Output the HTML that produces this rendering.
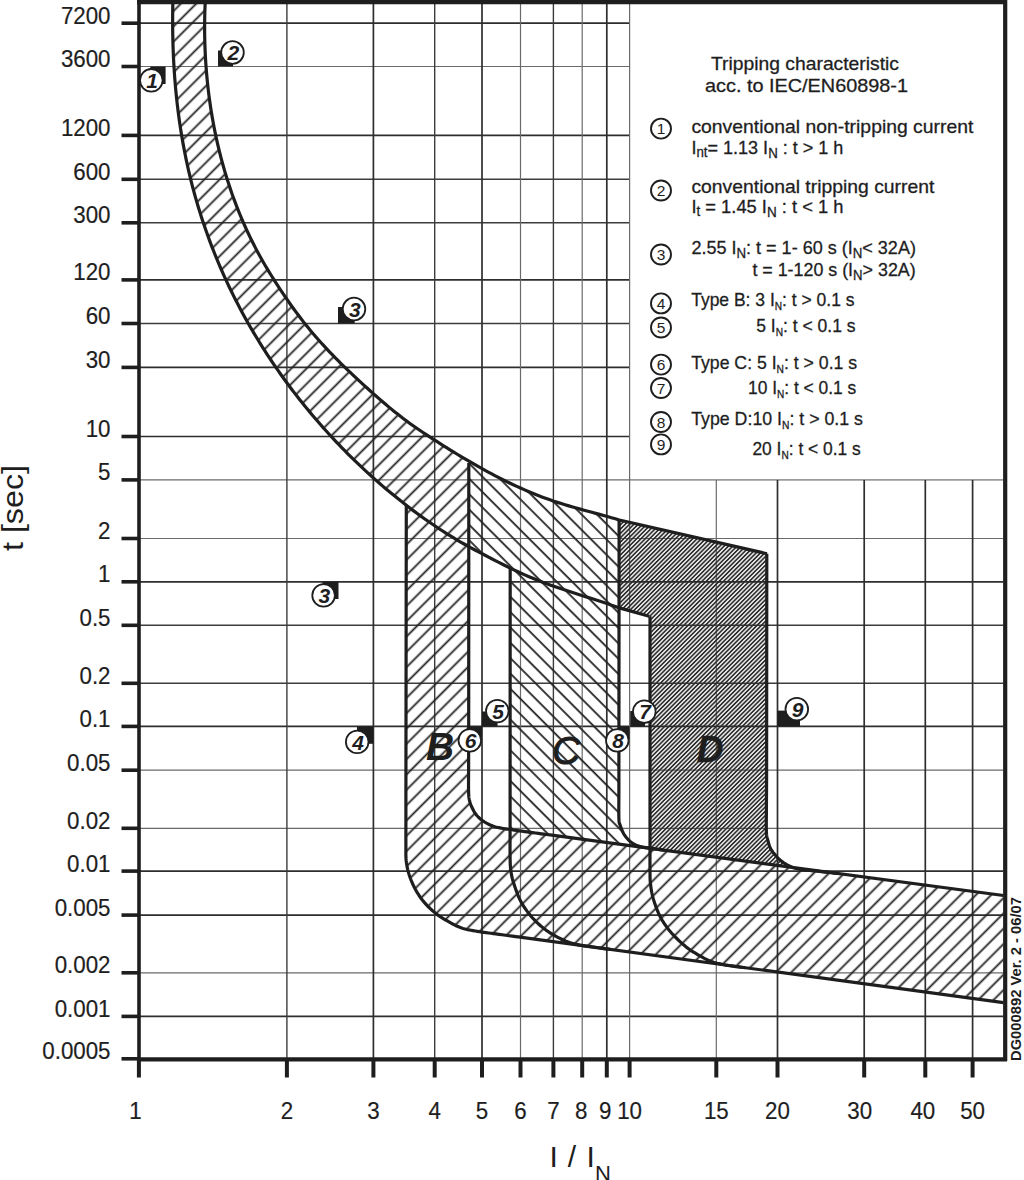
<!DOCTYPE html>
<html><head><meta charset="utf-8"><style>
html,body{margin:0;padding:0;background:#fff;width:1024px;height:1180px;overflow:hidden}
svg{display:block}
</style></head><body>
<svg width="1024" height="1180" viewBox="0 0 1024 1180">
<defs>
<pattern id="pA" patternUnits="userSpaceOnUse" width="10.84" height="10.84" patternTransform="rotate(45) translate(-5.0,0)"><line x1="5.42" y1="-1" x2="5.42" y2="12" stroke="#222" stroke-width="1.8"/></pattern>
<pattern id="pC" patternUnits="userSpaceOnUse" width="10.854" height="10.854" patternTransform="rotate(-45)"><line x1="4.10" y1="-1" x2="4.10" y2="12" stroke="#222" stroke-width="1.8"/></pattern>
<pattern id="pD" patternUnits="userSpaceOnUse" width="3.05" height="3.05" patternTransform="rotate(45)"><rect width="3.05" height="3.05" fill="#000" fill-opacity="0.1"/><line x1="1.52" y1="-1" x2="1.52" y2="5" stroke="#2a2a2a" stroke-width="1.5"/></pattern>
</defs>
<rect x="0" y="0" width="1024" height="1180" fill="#fff"/>
<line x1="139" y1="23.2" x2="630.0" y2="23.2" stroke="#2e2e2e" stroke-width="1.7"/>
<line x1="139" y1="66.5" x2="630.0" y2="66.5" stroke="#6a6a6a" stroke-width="1.2"/>
<line x1="139" y1="135.4" x2="630.0" y2="135.4" stroke="#2e2e2e" stroke-width="1.7"/>
<line x1="139" y1="179.3" x2="630.0" y2="179.3" stroke="#3c3c3c" stroke-width="1.4"/>
<line x1="139" y1="222.8" x2="630.0" y2="222.8" stroke="#3c3c3c" stroke-width="1.4"/>
<line x1="139" y1="279.9" x2="630.0" y2="279.9" stroke="#2e2e2e" stroke-width="1.7"/>
<line x1="139" y1="323.5" x2="630.0" y2="323.5" stroke="#3c3c3c" stroke-width="1.4"/>
<line x1="139" y1="367.4" x2="630.0" y2="367.4" stroke="#2e2e2e" stroke-width="1.7"/>
<line x1="139" y1="436.5" x2="630.0" y2="436.5" stroke="#2e2e2e" stroke-width="1.7"/>
<line x1="139" y1="479.9" x2="1003.5" y2="479.9" stroke="#6a6a6a" stroke-width="1.2"/>
<line x1="139" y1="538.5" x2="1003.5" y2="538.5" stroke="#6a6a6a" stroke-width="1.2"/>
<line x1="139" y1="581.8" x2="1003.5" y2="581.8" stroke="#2e2e2e" stroke-width="1.7"/>
<line x1="139" y1="625.3" x2="1003.5" y2="625.3" stroke="#3c3c3c" stroke-width="1.4"/>
<line x1="139" y1="683.3" x2="1003.5" y2="683.3" stroke="#3c3c3c" stroke-width="1.4"/>
<line x1="139" y1="726.4" x2="1003.5" y2="726.4" stroke="#2e2e2e" stroke-width="1.7"/>
<line x1="139" y1="770.2" x2="1003.5" y2="770.2" stroke="#6a6a6a" stroke-width="1.2"/>
<line x1="139" y1="828.3" x2="1003.5" y2="828.3" stroke="#6a6a6a" stroke-width="1.2"/>
<line x1="139" y1="871.1" x2="1003.5" y2="871.1" stroke="#2e2e2e" stroke-width="1.7"/>
<line x1="139" y1="915.1" x2="1003.5" y2="915.1" stroke="#2e2e2e" stroke-width="1.7"/>
<line x1="139" y1="972.8" x2="1003.5" y2="972.8" stroke="#6a6a6a" stroke-width="1.2"/>
<line x1="139" y1="1016.4" x2="1003.5" y2="1016.4" stroke="#2e2e2e" stroke-width="1.7"/>
<line x1="286.9" y1="2.0" x2="286.9" y2="1059" stroke="#3c3c3c" stroke-width="1.4"/>
<line x1="373.4" y1="2.0" x2="373.4" y2="1059" stroke="#2e2e2e" stroke-width="1.7"/>
<line x1="434.7" y1="2.0" x2="434.7" y2="1059" stroke="#3c3c3c" stroke-width="1.4"/>
<line x1="482.0" y1="2.0" x2="482.0" y2="1059" stroke="#2e2e2e" stroke-width="1.7"/>
<line x1="520.5" y1="2.0" x2="520.5" y2="1059" stroke="#6a6a6a" stroke-width="1.2"/>
<line x1="553.4" y1="2.0" x2="553.4" y2="1059" stroke="#3c3c3c" stroke-width="1.4"/>
<line x1="582.2" y1="2.0" x2="582.2" y2="1059" stroke="#6a6a6a" stroke-width="1.2"/>
<line x1="606.8" y1="2.0" x2="606.8" y2="1059" stroke="#2e2e2e" stroke-width="1.7"/>
<line x1="629.6" y1="2.0" x2="629.6" y2="1059" stroke="#6a6a6a" stroke-width="1.2"/>
<line x1="716.3" y1="479.9" x2="716.3" y2="1059" stroke="#6a6a6a" stroke-width="1.2"/>
<line x1="777.5" y1="479.9" x2="777.5" y2="1059" stroke="#2e2e2e" stroke-width="1.7"/>
<line x1="864.2" y1="479.9" x2="864.2" y2="1059" stroke="#2e2e2e" stroke-width="1.7"/>
<line x1="925.3" y1="479.9" x2="925.3" y2="1059" stroke="#2e2e2e" stroke-width="1.7"/>
<line x1="972.6" y1="479.9" x2="972.6" y2="1059" stroke="#2e2e2e" stroke-width="1.7"/>
<path d="M172.93 -0.18 L172.83 3.85 L172.75 7.87 L172.70 11.90 L172.66 15.92 L172.64 19.95 L172.65 23.97 L172.67 27.99 L172.71 32.01 L172.78 36.04 L172.87 40.06 L172.97 44.07 L173.10 48.09 L173.25 52.11 L173.42 56.12 L173.62 60.13 L173.83 64.14 L174.07 68.15 L174.33 72.16 L174.61 76.16 L174.92 80.16 L175.25 84.15 L175.60 88.15 L175.98 92.14 L176.37 96.13 L176.80 100.11 L177.25 104.09 L177.72 108.07 L178.21 112.04 L178.73 116.01 L179.28 119.97 L179.85 123.93 L180.44 127.88 L181.06 131.83 L181.71 135.78 L182.38 139.72 L183.08 143.65 L183.80 147.58 L184.55 151.50 L185.33 155.42 L186.13 159.33 L186.96 163.24 L187.82 167.14 L188.70 171.03 L189.62 174.92 L190.56 178.80 L191.52 182.67 L192.52 186.53 L193.54 190.39 L194.59 194.24 L195.67 198.09 L196.78 201.92 L197.91 205.75 L199.07 209.57 L200.26 213.39 L201.47 217.19 L202.71 220.99 L203.98 224.77 L205.28 228.55 L206.60 232.32 L207.95 236.08 L209.32 239.83 L210.73 243.57 L212.15 247.31 L213.61 251.03 L215.09 254.74 L216.60 258.44 L218.13 262.14 L219.69 265.82 L221.28 269.49 L222.89 273.15 L224.53 276.80 L226.19 280.44 L227.88 284.07 L229.60 287.69 L231.34 291.29 L233.11 294.89 L234.90 298.47 L236.72 302.04 L238.56 305.60 L240.42 309.14 L242.32 312.67 L244.24 316.20 L246.18 319.70 L248.15 323.20 L250.14 326.68 L252.15 330.15 L254.19 333.61 L256.26 337.05 L258.35 340.48 L260.46 343.89 L262.60 347.29 L264.76 350.68 L266.94 354.05 L269.14 357.41 L271.37 360.75 L273.62 364.08 L275.89 367.40 L278.18 370.70 L280.50 373.98 L282.83 377.25 L285.19 380.50 L287.57 383.74 L289.97 386.96 L292.39 390.16 L294.83 393.35 L297.28 396.53 L299.76 399.68 L302.26 402.82 L304.78 405.94 L307.31 409.05 L309.87 412.14 L312.44 415.21 L315.03 418.26 L317.64 421.30 L320.27 424.32 L322.92 427.32 L325.59 430.30 L328.27 433.27 L330.97 436.22 L333.70 439.15 L336.43 442.06 L339.19 444.95 L341.97 447.83 L344.76 450.68 L347.58 453.52 L350.41 456.34 L353.26 459.14 L356.12 461.93 L359.01 464.69 L361.91 467.43 L364.83 470.16 L367.77 472.87 L370.73 475.55 L373.71 478.22 L376.70 480.87 L379.71 483.50 L382.74 486.11 L385.79 488.70 L388.85 491.27 L391.93 493.82 L395.03 496.35 L398.15 498.86 L401.29 501.35 L404.44 503.82 L406.30 505.26 L405.90 800.00 L405.90 801.51 L405.90 803.47 L405.90 805.80 L405.90 808.41 L405.90 811.23 L405.90 814.15 L405.90 817.10 L405.90 820.00 L405.90 822.99 L405.89 826.21 L405.89 829.57 L405.88 832.99 L405.88 836.38 L405.88 839.63 L405.89 842.67 L405.90 845.40 L405.90 847.80 L405.89 849.96 L405.87 851.93 L405.86 853.75 L405.88 855.49 L405.93 857.19 L406.03 858.91 L406.20 860.70 L406.42 862.53 L406.69 864.33 L406.99 866.10 L407.34 867.86 L407.73 869.62 L408.17 871.37 L408.66 873.13 L409.20 874.90 L409.80 876.70 L410.46 878.52 L411.17 880.35 L411.93 882.17 L412.72 883.99 L413.55 885.77 L414.42 887.51 L415.30 889.20 L416.20 890.83 L417.13 892.42 L418.09 893.97 L419.08 895.49 L420.11 896.99 L421.19 898.47 L422.32 899.94 L423.50 901.40 L424.75 902.87 L426.07 904.34 L427.44 905.81 L428.85 907.26 L430.29 908.67 L431.76 910.04 L433.23 911.36 L434.70 912.60 L436.16 913.77 L437.63 914.87 L439.11 915.91 L440.61 916.91 L442.13 917.87 L443.69 918.82 L445.27 919.76 L446.90 920.70 L448.56 921.66 L450.26 922.63 L451.99 923.59 L453.74 924.53 L455.53 925.44 L457.36 926.29 L459.21 927.09 L461.10 927.80 L463.02 928.42 L464.97 928.97 L466.96 929.45 L468.98 929.89 L471.03 930.28 L473.11 930.66 L475.24 931.02 L477.40 931.40 L479.58 931.76 L481.76 932.09 L483.97 932.40 L486.22 932.69 L488.53 932.98 L490.92 933.28 L493.40 933.59 L496.00 933.94 L498.91 934.33 L502.18 934.78 L505.66 935.25 L509.16 935.72 L512.52 936.18 L515.56 936.59 L518.11 936.93 L520.00 937.19 L1003.50 1002.70 L1003.50 895.50 L550.00 834.96 L548.46 834.75 L546.41 834.48 L543.97 834.16 L541.26 833.80 L538.39 833.42 L535.48 833.03 L532.64 832.65 L530.00 832.29 L527.42 831.94 L524.72 831.57 L521.98 831.19 L519.26 830.82 L516.62 830.45 L514.14 830.10 L511.88 829.78 L509.90 829.50 L508.25 829.26 L506.87 829.07 L505.71 828.90 L504.71 828.76 L503.79 828.62 L502.91 828.47 L502.00 828.30 L501.00 828.10 L499.94 827.88 L498.90 827.67 L497.87 827.45 L496.86 827.21 L495.84 826.96 L494.83 826.68 L493.82 826.36 L492.80 826.00 L491.77 825.60 L490.72 825.17 L489.66 824.71 L488.61 824.21 L487.57 823.69 L486.55 823.15 L485.56 822.58 L484.60 822.00 L483.67 821.39 L482.75 820.76 L481.86 820.11 L480.99 819.43 L480.14 818.73 L479.33 818.01 L478.54 817.26 L477.80 816.50 L477.09 815.72 L476.43 814.92 L475.79 814.10 L475.19 813.26 L474.61 812.39 L474.05 811.49 L473.52 810.56 L473.00 809.60 L472.49 808.59 L472.00 807.54 L471.52 806.44 L471.06 805.32 L470.64 804.19 L470.25 803.05 L469.90 801.92 L469.60 800.80 L469.35 799.78 L469.16 798.89 L469.01 798.04 L468.89 797.17 L468.80 796.19 L468.72 795.04 L468.66 793.64 L468.60 791.90 L468.55 789.84 L468.53 787.53 L468.52 785.00 L468.53 782.27 L468.55 779.38 L468.57 776.35 L468.59 773.21 L468.60 770.00 L468.61 766.43 L468.62 762.37 L468.63 758.02 L468.65 753.63 L468.67 749.41 L468.68 745.58 L468.69 742.37 L468.70 740.00 L468.80 461.12 L467.20 460.19 L463.74 458.14 L460.28 456.08 L456.84 454.00 L453.41 451.90 L449.99 449.79 L446.58 447.66 L443.18 445.53 L439.79 443.38 L436.42 441.22 L433.05 439.05 L429.69 436.87 L426.34 434.68 L423.01 432.48 L419.70 430.26 L416.41 428.01 L413.15 425.73 L409.91 423.43 L406.71 421.09 L403.53 418.72 L400.39 416.31 L397.28 413.87 L394.18 411.39 L391.12 408.89 L388.07 406.36 L385.04 403.80 L382.02 401.22 L379.02 398.62 L376.02 396.00 L373.03 393.36 L370.05 390.71 L367.07 388.04 L364.10 385.36 L361.14 382.66 L358.18 379.94 L355.24 377.21 L352.31 374.45 L349.40 371.68 L346.50 368.90 L343.61 366.09 L340.75 363.27 L337.90 360.43 L335.08 357.56 L332.27 354.68 L329.49 351.78 L326.74 348.86 L324.01 345.92 L321.31 342.96 L318.64 339.98 L316.00 336.97 L313.39 333.95 L310.81 330.90 L308.27 327.83 L305.77 324.74 L303.30 321.63 L300.87 318.49 L298.47 315.33 L296.10 312.15 L293.76 308.95 L291.44 305.72 L289.15 302.47 L286.87 299.21 L284.61 295.92 L282.37 292.61 L280.14 289.28 L277.94 285.93 L275.76 282.57 L273.60 279.18 L271.46 275.77 L269.35 272.35 L267.27 268.91 L265.22 265.45 L263.20 261.97 L261.22 258.47 L259.27 254.96 L257.35 251.43 L255.47 247.88 L253.63 244.32 L251.83 240.74 L250.06 237.15 L248.34 233.54 L246.65 229.91 L244.99 226.27 L243.37 222.62 L241.79 218.95 L240.25 215.27 L238.74 211.57 L237.26 207.87 L235.82 204.14 L234.42 200.41 L233.05 196.66 L231.72 192.90 L230.42 189.13 L229.15 185.35 L227.92 181.56 L226.72 177.75 L225.56 173.94 L224.42 170.11 L223.33 166.27 L222.26 162.43 L221.23 158.57 L220.23 154.71 L219.26 150.84 L218.32 146.96 L217.41 143.07 L216.54 139.17 L215.70 135.26 L214.89 131.35 L214.11 127.43 L213.36 123.50 L212.64 119.57 L211.96 115.63 L211.30 111.68 L210.68 107.73 L210.09 103.77 L209.53 99.81 L209.00 95.85 L208.50 91.88 L208.03 87.90 L207.59 83.92 L207.18 79.94 L206.81 75.95 L206.46 71.97 L206.14 67.97 L205.86 63.98 L205.60 59.98 L205.37 55.99 L205.18 51.99 L205.01 47.99 L204.87 43.98 L204.77 39.98 L204.69 35.98 L204.64 31.98 L204.63 27.98 L204.64 23.97 L204.68 19.97 L204.75 15.97 L204.85 11.98 L204.98 7.98 L205.14 3.99 L205.32 -0.01 Z" fill="url(#pA)"/>
<path d="M468.80 461.12 L470.67 462.22 L474.16 464.23 L477.65 466.21 L481.16 468.18 L484.68 470.12 L488.21 472.04 L491.75 473.94 L495.30 475.81 L498.86 477.65 L502.43 479.46 L506.02 481.24 L509.62 482.99 L513.23 484.71 L516.85 486.40 L520.48 488.05 L524.13 489.66 L527.78 491.24 L531.45 492.78 L535.13 494.28 L538.83 495.74 L542.53 497.16 L546.25 498.53 L549.98 499.86 L553.72 501.15 L557.48 502.39 L561.25 503.59 L565.03 504.75 L568.82 505.88 L572.63 506.99 L576.45 508.07 L580.28 509.14 L584.13 510.19 L587.99 511.24 L591.86 512.29 L595.74 513.34 L599.64 514.40 L603.56 515.48 L607.48 516.57 L611.42 517.68 L615.38 518.83 L619.10 519.93 L618.90 770.00 L618.90 771.48 L618.90 773.39 L618.90 775.65 L618.90 778.21 L618.90 780.98 L618.90 783.92 L618.90 786.95 L618.90 790.00 L618.89 793.32 L618.87 797.08 L618.84 801.09 L618.81 805.17 L618.80 809.16 L618.80 812.86 L618.83 816.10 L618.90 818.70 L618.99 820.59 L619.10 821.91 L619.23 822.79 L619.39 823.38 L619.57 823.81 L619.78 824.21 L620.02 824.73 L620.30 825.50 L620.62 826.47 L620.98 827.50 L621.37 828.56 L621.79 829.64 L622.23 830.71 L622.70 831.76 L623.19 832.76 L623.70 833.70 L624.23 834.59 L624.79 835.44 L625.37 836.26 L625.98 837.06 L626.59 837.82 L627.23 838.54 L627.86 839.24 L628.50 839.90 L629.14 840.52 L629.77 841.11 L630.42 841.65 L631.07 842.17 L631.74 842.66 L632.43 843.12 L633.15 843.57 L633.90 844.00 L634.68 844.41 L635.47 844.80 L636.29 845.17 L637.14 845.52 L638.01 845.84 L638.91 846.15 L639.84 846.43 L640.80 846.70 L641.76 846.93 L642.71 847.12 L643.67 847.28 L644.67 847.43 L645.73 847.57 L646.89 847.72 L648.17 847.90 L649.60 848.10 L651.31 848.35 L653.35 848.65 L655.57 848.97 L657.85 849.29 L660.06 849.61 L662.08 849.90 L663.77 850.14 L510.20 829.65 L510.20 568.08 L506.57 566.30 L502.95 564.50 L499.35 562.68 L495.77 560.84 L492.19 558.99 L488.63 557.14 L485.08 555.28 L481.55 553.42 L478.03 551.57 L474.52 549.72 L471.03 547.85 L468.80 546.63 Z" fill="url(#pC)"/>
<path d="M619.1 520 L767 553.7 L766.60 780.00 L766.58 782.37 L766.56 785.58 L766.53 789.41 L766.50 793.63 L766.47 798.02 L766.44 802.37 L766.42 806.43 L766.40 810.00 L766.38 813.22 L766.35 816.37 L766.32 819.41 L766.30 822.31 L766.29 825.05 L766.30 827.58 L766.33 829.87 L766.40 831.90 L766.50 833.58 L766.62 834.91 L766.77 835.98 L766.93 836.86 L767.12 837.63 L767.33 838.37 L767.55 839.17 L767.80 840.10 L768.06 841.13 L768.33 842.18 L768.62 843.24 L768.94 844.29 L769.28 845.33 L769.65 846.35 L770.05 847.34 L770.50 848.30 L770.99 849.23 L771.54 850.13 L772.12 851.01 L772.73 851.87 L773.36 852.71 L774.00 853.52 L774.65 854.32 L775.30 855.10 L775.94 855.85 L776.58 856.58 L777.22 857.29 L777.88 857.98 L778.56 858.65 L779.27 859.30 L780.01 859.95 L780.80 860.60 L781.63 861.24 L782.49 861.88 L783.38 862.51 L784.30 863.13 L785.25 863.73 L786.24 864.31 L787.25 864.87 L788.30 865.40 L789.30 865.90 L790.24 866.36 L791.16 866.81 L792.13 867.23 L793.22 867.64 L794.49 868.03 L795.99 868.42 L797.80 868.80 L799.98 869.17 L802.51 869.54 L805.29 869.89 L808.24 870.23 L811.28 870.56 L814.31 870.88 L817.24 871.19 L820.00 871.50 L822.74 871.81 L825.62 872.13 L828.54 872.45 L831.39 872.76 L834.06 873.04 L836.46 873.30 L838.47 873.51 L650.00 848.31 L650.00 616.2 L619.1 607.9 Z" fill="url(#pD)"/>
<path d="M172.93 -0.18 L172.83 3.85 L172.75 7.87 L172.70 11.90 L172.66 15.92 L172.64 19.95 L172.65 23.97 L172.67 27.99 L172.71 32.01 L172.78 36.04 L172.87 40.06 L172.97 44.07 L173.10 48.09 L173.25 52.11 L173.42 56.12 L173.62 60.13 L173.83 64.14 L174.07 68.15 L174.33 72.16 L174.61 76.16 L174.92 80.16 L175.25 84.15 L175.60 88.15 L175.98 92.14 L176.37 96.13 L176.80 100.11 L177.25 104.09 L177.72 108.07 L178.21 112.04 L178.73 116.01 L179.28 119.97 L179.85 123.93 L180.44 127.88 L181.06 131.83 L181.71 135.78 L182.38 139.72 L183.08 143.65 L183.80 147.58 L184.55 151.50 L185.33 155.42 L186.13 159.33 L186.96 163.24 L187.82 167.14 L188.70 171.03 L189.62 174.92 L190.56 178.80 L191.52 182.67 L192.52 186.53 L193.54 190.39 L194.59 194.24 L195.67 198.09 L196.78 201.92 L197.91 205.75 L199.07 209.57 L200.26 213.39 L201.47 217.19 L202.71 220.99 L203.98 224.77 L205.28 228.55 L206.60 232.32 L207.95 236.08 L209.32 239.83 L210.73 243.57 L212.15 247.31 L213.61 251.03 L215.09 254.74 L216.60 258.44 L218.13 262.14 L219.69 265.82 L221.28 269.49 L222.89 273.15 L224.53 276.80 L226.19 280.44 L227.88 284.07 L229.60 287.69 L231.34 291.29 L233.11 294.89 L234.90 298.47 L236.72 302.04 L238.56 305.60 L240.42 309.14 L242.32 312.67 L244.24 316.20 L246.18 319.70 L248.15 323.20 L250.14 326.68 L252.15 330.15 L254.19 333.61 L256.26 337.05 L258.35 340.48 L260.46 343.89 L262.60 347.29 L264.76 350.68 L266.94 354.05 L269.14 357.41 L271.37 360.75 L273.62 364.08 L275.89 367.40 L278.18 370.70 L280.50 373.98 L282.83 377.25 L285.19 380.50 L287.57 383.74 L289.97 386.96 L292.39 390.16 L294.83 393.35 L297.28 396.53 L299.76 399.68 L302.26 402.82 L304.78 405.94 L307.31 409.05 L309.87 412.14 L312.44 415.21 L315.03 418.26 L317.64 421.30 L320.27 424.32 L322.92 427.32 L325.59 430.30 L328.27 433.27 L330.97 436.22 L333.70 439.15 L336.43 442.06 L339.19 444.95 L341.97 447.83 L344.76 450.68 L347.58 453.52 L350.41 456.34 L353.26 459.14 L356.12 461.93 L359.01 464.69 L361.91 467.43 L364.83 470.16 L367.77 472.87 L370.73 475.55 L373.71 478.22 L376.70 480.87 L379.71 483.50 L382.74 486.11 L385.79 488.70 L388.85 491.27 L391.93 493.82 L395.03 496.35 L398.15 498.86 L401.29 501.35 L404.44 503.82 L407.61 506.27 L410.80 508.70 L414.01 511.11 L417.23 513.50 L420.47 515.86 L423.73 518.19 L427.01 520.51 L430.30 522.79 L433.61 525.05 L436.93 527.28 L440.27 529.48 L443.63 531.65 L447.00 533.80 L450.38 535.91 L453.79 537.98 L457.21 540.03 L460.64 542.03 L464.09 544.01 L467.55 545.94 L471.03 547.85 L474.52 549.72 L478.03 551.57 L481.55 553.42 L485.08 555.28 L488.63 557.14 L492.19 558.99 L495.77 560.84 L499.35 562.68 L502.95 564.50 L506.57 566.30 L510.19 568.07 L513.83 569.82 L517.47 571.53 L521.13 573.21 L524.80 574.84 L528.48 576.43 L532.17 577.99 L535.87 579.50 L539.58 580.97 L543.30 582.41 L547.03 583.81 L550.77 585.18 L554.52 586.51 L558.27 587.82 L562.03 589.09 L565.81 590.34 L569.58 591.58 L573.37 592.80 L577.16 594.01 L580.96 595.21 L584.77 596.42 L588.58 597.62 L592.40 598.84 L596.22 600.06 L600.05 601.30 L603.88 602.56 L607.72 603.85 L611.56 605.16 L615.41 606.51 L619.26 607.89 L649.2 616.2" fill="none" stroke="#1e1e1e" stroke-width="3.2" stroke-linejoin="round"/>
<path d="M205.32 -0.01 L205.14 3.99 L204.98 7.98 L204.85 11.98 L204.75 15.97 L204.68 19.97 L204.64 23.97 L204.63 27.98 L204.64 31.98 L204.69 35.98 L204.77 39.98 L204.87 43.98 L205.01 47.99 L205.18 51.99 L205.37 55.99 L205.60 59.98 L205.86 63.98 L206.14 67.97 L206.46 71.97 L206.81 75.95 L207.18 79.94 L207.59 83.92 L208.03 87.90 L208.50 91.88 L209.00 95.85 L209.53 99.81 L210.09 103.77 L210.68 107.73 L211.30 111.68 L211.96 115.63 L212.64 119.57 L213.36 123.50 L214.11 127.43 L214.89 131.35 L215.70 135.26 L216.54 139.17 L217.41 143.07 L218.32 146.96 L219.26 150.84 L220.23 154.71 L221.23 158.57 L222.26 162.43 L223.33 166.27 L224.42 170.11 L225.56 173.94 L226.72 177.75 L227.92 181.56 L229.15 185.35 L230.42 189.13 L231.72 192.90 L233.05 196.66 L234.42 200.41 L235.82 204.14 L237.26 207.87 L238.74 211.57 L240.25 215.27 L241.79 218.95 L243.37 222.62 L244.99 226.27 L246.65 229.91 L248.34 233.54 L250.06 237.15 L251.83 240.74 L253.63 244.32 L255.47 247.88 L257.35 251.43 L259.27 254.96 L261.22 258.47 L263.20 261.97 L265.22 265.45 L267.27 268.91 L269.35 272.35 L271.46 275.77 L273.60 279.18 L275.76 282.57 L277.94 285.93 L280.14 289.28 L282.37 292.61 L284.61 295.92 L286.87 299.21 L289.15 302.47 L291.44 305.72 L293.76 308.95 L296.10 312.15 L298.47 315.33 L300.87 318.49 L303.30 321.63 L305.77 324.74 L308.27 327.83 L310.81 330.90 L313.39 333.95 L316.00 336.97 L318.64 339.98 L321.31 342.96 L324.01 345.92 L326.74 348.86 L329.49 351.78 L332.27 354.68 L335.08 357.56 L337.90 360.43 L340.75 363.27 L343.61 366.09 L346.50 368.90 L349.40 371.68 L352.31 374.45 L355.24 377.21 L358.18 379.94 L361.14 382.66 L364.10 385.36 L367.07 388.04 L370.05 390.71 L373.03 393.36 L376.02 396.00 L379.02 398.62 L382.02 401.22 L385.04 403.80 L388.07 406.36 L391.12 408.89 L394.18 411.39 L397.28 413.87 L400.39 416.31 L403.53 418.72 L406.71 421.09 L409.91 423.43 L413.15 425.73 L416.41 428.01 L419.70 430.26 L423.01 432.48 L426.34 434.68 L429.69 436.87 L433.05 439.05 L436.42 441.22 L439.79 443.38 L443.18 445.53 L446.58 447.66 L449.99 449.79 L453.41 451.90 L456.84 454.00 L460.28 456.08 L463.74 458.14 L467.20 460.19 L470.67 462.22 L474.16 464.23 L477.65 466.21 L481.16 468.18 L484.68 470.12 L488.21 472.04 L491.75 473.94 L495.30 475.81 L498.86 477.65 L502.43 479.46 L506.02 481.24 L509.62 482.99 L513.23 484.71 L516.85 486.40 L520.48 488.05 L524.13 489.66 L527.78 491.24 L531.45 492.78 L535.13 494.28 L538.83 495.74 L542.53 497.16 L546.25 498.53 L549.98 499.86 L553.72 501.15 L557.48 502.39 L561.25 503.59 L565.03 504.75 L568.82 505.88 L572.63 506.99 L576.45 508.07 L580.28 509.14 L584.13 510.19 L587.99 511.24 L591.86 512.29 L595.74 513.34 L599.64 514.40 L603.56 515.48 L607.48 516.57 L611.42 517.68 L615.38 518.83 L619.34 520.00 L767 553.7" fill="none" stroke="#1e1e1e" stroke-width="3.2" stroke-linejoin="round"/>
<path d="M406.30 505.6 L405.90 800.00 L405.90 801.51 L405.90 803.47 L405.90 805.80 L405.90 808.41 L405.90 811.23 L405.90 814.15 L405.90 817.10 L405.90 820.00 L405.90 822.99 L405.89 826.21 L405.89 829.57 L405.88 832.99 L405.88 836.38 L405.88 839.63 L405.89 842.67 L405.90 845.40 L405.90 847.80 L405.89 849.96 L405.87 851.93 L405.86 853.75 L405.88 855.49 L405.93 857.19 L406.03 858.91 L406.20 860.70 L406.42 862.53 L406.69 864.33 L406.99 866.10 L407.34 867.86 L407.73 869.62 L408.17 871.37 L408.66 873.13 L409.20 874.90 L409.80 876.70 L410.46 878.52 L411.17 880.35 L411.93 882.17 L412.72 883.99 L413.55 885.77 L414.42 887.51 L415.30 889.20 L416.20 890.83 L417.13 892.42 L418.09 893.97 L419.08 895.49 L420.11 896.99 L421.19 898.47 L422.32 899.94 L423.50 901.40 L424.75 902.87 L426.07 904.34 L427.44 905.81 L428.85 907.26 L430.29 908.67 L431.76 910.04 L433.23 911.36 L434.70 912.60 L436.16 913.77 L437.63 914.87 L439.11 915.91 L440.61 916.91 L442.13 917.87 L443.69 918.82 L445.27 919.76 L446.90 920.70 L448.56 921.66 L450.26 922.63 L451.99 923.59 L453.74 924.53 L455.53 925.44 L457.36 926.29 L459.21 927.09 L461.10 927.80 L463.02 928.42 L464.97 928.97 L466.96 929.45 L468.98 929.89 L471.03 930.28 L473.11 930.66 L475.24 931.02 L477.40 931.40 L479.58 931.76 L481.76 932.09 L483.97 932.40 L486.22 932.69 L488.53 932.98 L490.92 933.28 L493.40 933.59 L496.00 933.94 L498.91 934.33 L502.18 934.78 L505.66 935.25 L509.16 935.72 L512.52 936.18 L515.56 936.59 L518.11 936.93 L520.00 937.19 L1003.50 1002.70" fill="none" stroke="#1e1e1e" stroke-width="3.2" stroke-linejoin="round"/>
<path d="M468.80 462.9 L468.70 740.00 L468.69 742.37 L468.68 745.58 L468.67 749.41 L468.65 753.63 L468.63 758.02 L468.62 762.37 L468.61 766.43 L468.60 770.00 L468.59 773.21 L468.57 776.35 L468.55 779.38 L468.53 782.27 L468.52 785.00 L468.53 787.53 L468.55 789.84 L468.60 791.90 L468.66 793.64 L468.72 795.04 L468.80 796.19 L468.89 797.17 L469.01 798.04 L469.16 798.89 L469.35 799.78 L469.60 800.80 L469.90 801.92 L470.25 803.05 L470.64 804.19 L471.06 805.32 L471.52 806.44 L472.00 807.54 L472.49 808.59 L473.00 809.60 L473.52 810.56 L474.05 811.49 L474.61 812.39 L475.19 813.26 L475.79 814.10 L476.43 814.92 L477.09 815.72 L477.80 816.50 L478.54 817.26 L479.33 818.01 L480.14 818.73 L480.99 819.43 L481.86 820.11 L482.75 820.76 L483.67 821.39 L484.60 822.00 L485.56 822.58 L486.55 823.15 L487.57 823.69 L488.61 824.21 L489.66 824.71 L490.72 825.17 L491.77 825.60 L492.80 826.00 L493.82 826.36 L494.83 826.68 L495.84 826.96 L496.86 827.21 L497.87 827.45 L498.90 827.67 L499.94 827.88 L501.00 828.10 L502.00 828.30 L502.91 828.47 L503.79 828.62 L504.71 828.76 L505.71 828.90 L506.87 829.07 L508.25 829.26 L509.90 829.50 L511.88 829.78 L514.14 830.10 L516.62 830.45 L519.26 830.82 L521.98 831.19 L524.72 831.57 L527.42 831.94 L530.00 832.29 L532.64 832.65 L535.48 833.03 L538.39 833.42 L541.26 833.80 L543.97 834.16 L546.41 834.48 L548.46 834.75 L550.00 834.96 L1003.50 895.50" fill="none" stroke="#1e1e1e" stroke-width="3.2" stroke-linejoin="round"/>
<path d="M510.20 568.3 L510.10 800.00 L510.10 802.33 L510.10 805.45 L510.10 809.16 L510.10 813.28 L510.10 817.61 L510.10 821.97 L510.10 826.16 L510.10 830.00 L510.09 833.65 L510.08 837.36 L510.06 841.07 L510.04 844.73 L510.03 848.26 L510.04 851.60 L510.06 854.71 L510.10 857.50 L510.15 859.94 L510.21 862.05 L510.27 863.91 L510.34 865.59 L510.45 867.16 L510.59 868.69 L510.77 870.25 L511.00 871.90 L511.28 873.58 L511.58 875.21 L511.92 876.79 L512.29 878.37 L512.72 879.96 L513.19 881.60 L513.71 883.30 L514.30 885.10 L514.94 887.02 L515.64 889.04 L516.39 891.14 L517.19 893.28 L518.04 895.43 L518.94 897.55 L519.89 899.62 L520.90 901.60 L521.97 903.52 L523.11 905.41 L524.32 907.27 L525.57 909.09 L526.85 910.88 L528.16 912.61 L529.48 914.29 L530.80 915.90 L532.13 917.46 L533.49 918.96 L534.88 920.41 L536.28 921.81 L537.69 923.16 L539.10 924.46 L540.51 925.71 L541.90 926.90 L543.26 928.03 L544.61 929.08 L545.94 930.08 L547.27 931.02 L548.62 931.94 L550.00 932.83 L551.42 933.71 L552.90 934.60 L554.46 935.50 L556.10 936.40 L557.79 937.30 L559.50 938.18 L561.21 939.02 L562.90 939.81 L564.54 940.54 L566.10 941.20 L567.57 941.78 L568.96 942.28 L570.30 942.73 L571.62 943.13 L572.93 943.49 L574.27 943.83 L575.65 944.16 L577.10 944.50 L578.57 944.82 L580.02 945.11 L581.49 945.37 L582.99 945.62 L584.56 945.87 L586.23 946.12 L588.03 946.38 L590.00 946.67 L592.30 947.01 L594.97 947.38 L597.86 947.77 L600.81 948.17 L603.65 948.54 L606.24 948.89 L608.41 949.17 L610.00 949.38" fill="none" stroke="#1e1e1e" stroke-width="3.2" stroke-linejoin="round"/>
<path d="M619.10 520 L618.90 770.00 L618.90 771.48 L618.90 773.39 L618.90 775.65 L618.90 778.21 L618.90 780.98 L618.90 783.92 L618.90 786.95 L618.90 790.00 L618.89 793.32 L618.87 797.08 L618.84 801.09 L618.81 805.17 L618.80 809.16 L618.80 812.86 L618.83 816.10 L618.90 818.70 L618.99 820.59 L619.10 821.91 L619.23 822.79 L619.39 823.38 L619.57 823.81 L619.78 824.21 L620.02 824.73 L620.30 825.50 L620.62 826.47 L620.98 827.50 L621.37 828.56 L621.79 829.64 L622.23 830.71 L622.70 831.76 L623.19 832.76 L623.70 833.70 L624.23 834.59 L624.79 835.44 L625.37 836.26 L625.98 837.06 L626.59 837.82 L627.23 838.54 L627.86 839.24 L628.50 839.90 L629.14 840.52 L629.77 841.11 L630.42 841.65 L631.07 842.17 L631.74 842.66 L632.43 843.12 L633.15 843.57 L633.90 844.00 L634.68 844.41 L635.47 844.80 L636.29 845.17 L637.14 845.52 L638.01 845.84 L638.91 846.15 L639.84 846.43 L640.80 846.70 L641.76 846.93 L642.71 847.12 L643.67 847.28 L644.67 847.43 L645.73 847.57 L646.89 847.72 L648.17 847.90 L649.60 848.10 L651.31 848.35 L653.35 848.65 L655.57 848.97 L657.85 849.29 L660.06 849.61 L662.08 849.90 L663.77 850.14" fill="none" stroke="#1e1e1e" stroke-width="3.2" stroke-linejoin="round"/>
<path d="M650.00 616.2 L650.00 800.00 L650.00 803.15 L650.00 807.40 L650.00 812.47 L650.00 818.07 L650.00 823.92 L650.00 829.71 L650.00 835.17 L650.00 840.00 L650.00 844.41 L649.99 848.76 L649.98 853.00 L649.97 857.08 L649.96 860.94 L649.96 864.55 L649.98 867.86 L650.00 870.80 L650.02 873.28 L650.04 875.31 L650.05 876.99 L650.08 878.42 L650.13 879.74 L650.21 881.03 L650.33 882.41 L650.50 884.00 L650.71 885.73 L650.94 887.47 L651.20 889.22 L651.50 890.99 L651.84 892.79 L652.23 894.62 L652.68 896.49 L653.20 898.40 L653.79 900.38 L654.44 902.45 L655.15 904.58 L655.91 906.73 L656.71 908.86 L657.55 910.96 L658.41 912.98 L659.30 914.90 L660.22 916.73 L661.19 918.51 L662.19 920.24 L663.23 921.91 L664.29 923.54 L665.36 925.11 L666.43 926.63 L667.50 928.10 L668.56 929.50 L669.60 930.81 L670.65 932.05 L671.72 933.26 L672.81 934.43 L673.92 935.60 L675.09 936.79 L676.30 938.00 L677.57 939.25 L678.89 940.53 L680.25 941.81 L681.64 943.09 L683.06 944.35 L684.50 945.58 L685.95 946.77 L687.40 947.90 L688.87 948.98 L690.38 950.03 L691.91 951.05 L693.46 952.02 L695.00 952.97 L696.53 953.88 L698.03 954.76 L699.50 955.60 L700.90 956.40 L702.25 957.17 L703.55 957.90 L704.85 958.59 L706.17 959.25 L707.53 959.89 L708.97 960.51 L710.50 961.10 L712.11 961.67 L713.75 962.21 L715.44 962.72 L717.19 963.21 L719.01 963.67 L720.91 964.12 L722.90 964.55 L725.00 964.97 L727.37 965.38 L730.08 965.79 L732.98 966.19 L735.91 966.56 L738.72 966.91 L741.28 967.22 L743.42 967.48 L745.00 967.68" fill="none" stroke="#1e1e1e" stroke-width="3.2" stroke-linejoin="round"/>
<path d="M766.80 553.7 L766.60 780.00 L766.58 782.37 L766.56 785.58 L766.53 789.41 L766.50 793.63 L766.47 798.02 L766.44 802.37 L766.42 806.43 L766.40 810.00 L766.38 813.22 L766.35 816.37 L766.32 819.41 L766.30 822.31 L766.29 825.05 L766.30 827.58 L766.33 829.87 L766.40 831.90 L766.50 833.58 L766.62 834.91 L766.77 835.98 L766.93 836.86 L767.12 837.63 L767.33 838.37 L767.55 839.17 L767.80 840.10 L768.06 841.13 L768.33 842.18 L768.62 843.24 L768.94 844.29 L769.28 845.33 L769.65 846.35 L770.05 847.34 L770.50 848.30 L770.99 849.23 L771.54 850.13 L772.12 851.01 L772.73 851.87 L773.36 852.71 L774.00 853.52 L774.65 854.32 L775.30 855.10 L775.94 855.85 L776.58 856.58 L777.22 857.29 L777.88 857.98 L778.56 858.65 L779.27 859.30 L780.01 859.95 L780.80 860.60 L781.63 861.24 L782.49 861.88 L783.38 862.51 L784.30 863.13 L785.25 863.73 L786.24 864.31 L787.25 864.87 L788.30 865.40 L789.30 865.90 L790.24 866.36 L791.16 866.81 L792.13 867.23 L793.22 867.64 L794.49 868.03 L795.99 868.42 L797.80 868.80 L799.98 869.17 L802.51 869.54 L805.29 869.89 L808.24 870.23 L811.28 870.56 L814.31 870.88 L817.24 871.19 L820.00 871.50 L822.74 871.81 L825.62 872.13 L828.54 872.45 L831.39 872.76 L834.06 873.04 L836.46 873.30 L838.47 873.51" fill="none" stroke="#1e1e1e" stroke-width="3.2" stroke-linejoin="round"/>
<rect x="631" y="0" width="372.5" height="479.1" fill="#fff"/>
<line x1="139" y1="0" x2="139" y2="1061" stroke="#1e1e1e" stroke-width="3.6"/>
<line x1="137" y1="2" x2="1007" y2="2" stroke="#1e1e1e" stroke-width="4.6"/>
<line x1="1005.2" y1="0" x2="1005.2" y2="1061" stroke="#1e1e1e" stroke-width="4.2"/>
<line x1="137" y1="1059.3" x2="1007" y2="1059.3" stroke="#1e1e1e" stroke-width="4.2"/>
<line x1="121.5" y1="23.2" x2="139" y2="23.2" stroke="#1e1e1e" stroke-width="3.6"/>
<line x1="121.5" y1="66.5" x2="139" y2="66.5" stroke="#1e1e1e" stroke-width="3.6"/>
<line x1="121.5" y1="135.4" x2="139" y2="135.4" stroke="#1e1e1e" stroke-width="3.6"/>
<line x1="121.5" y1="179.3" x2="139" y2="179.3" stroke="#1e1e1e" stroke-width="3.6"/>
<line x1="121.5" y1="222.8" x2="139" y2="222.8" stroke="#1e1e1e" stroke-width="3.6"/>
<line x1="121.5" y1="279.9" x2="139" y2="279.9" stroke="#1e1e1e" stroke-width="3.6"/>
<line x1="121.5" y1="323.5" x2="139" y2="323.5" stroke="#1e1e1e" stroke-width="3.6"/>
<line x1="121.5" y1="367.4" x2="139" y2="367.4" stroke="#1e1e1e" stroke-width="3.6"/>
<line x1="121.5" y1="436.5" x2="139" y2="436.5" stroke="#1e1e1e" stroke-width="3.6"/>
<line x1="121.5" y1="479.9" x2="139" y2="479.9" stroke="#1e1e1e" stroke-width="3.6"/>
<line x1="121.5" y1="538.5" x2="139" y2="538.5" stroke="#1e1e1e" stroke-width="3.6"/>
<line x1="121.5" y1="581.8" x2="139" y2="581.8" stroke="#1e1e1e" stroke-width="3.6"/>
<line x1="121.5" y1="625.3" x2="139" y2="625.3" stroke="#1e1e1e" stroke-width="3.6"/>
<line x1="121.5" y1="683.3" x2="139" y2="683.3" stroke="#1e1e1e" stroke-width="3.6"/>
<line x1="121.5" y1="726.4" x2="139" y2="726.4" stroke="#1e1e1e" stroke-width="3.6"/>
<line x1="121.5" y1="770.2" x2="139" y2="770.2" stroke="#1e1e1e" stroke-width="3.6"/>
<line x1="121.5" y1="828.3" x2="139" y2="828.3" stroke="#1e1e1e" stroke-width="3.6"/>
<line x1="121.5" y1="871.1" x2="139" y2="871.1" stroke="#1e1e1e" stroke-width="3.6"/>
<line x1="121.5" y1="915.1" x2="139" y2="915.1" stroke="#1e1e1e" stroke-width="3.6"/>
<line x1="121.5" y1="972.8" x2="139" y2="972.8" stroke="#1e1e1e" stroke-width="3.6"/>
<line x1="121.5" y1="1016.4" x2="139" y2="1016.4" stroke="#1e1e1e" stroke-width="3.6"/>
<line x1="121.5" y1="1058.8" x2="139" y2="1058.8" stroke="#1e1e1e" stroke-width="3.6"/>
<line x1="138.9" y1="1059" x2="138.9" y2="1077.5" stroke="#1e1e1e" stroke-width="4"/>
<line x1="286.9" y1="1059" x2="286.9" y2="1077.5" stroke="#1e1e1e" stroke-width="4"/>
<line x1="373.4" y1="1059" x2="373.4" y2="1077.5" stroke="#1e1e1e" stroke-width="4"/>
<line x1="434.7" y1="1059" x2="434.7" y2="1077.5" stroke="#1e1e1e" stroke-width="4"/>
<line x1="482.0" y1="1059" x2="482.0" y2="1077.5" stroke="#1e1e1e" stroke-width="4"/>
<line x1="520.5" y1="1059" x2="520.5" y2="1077.5" stroke="#1e1e1e" stroke-width="4"/>
<line x1="553.4" y1="1059" x2="553.4" y2="1077.5" stroke="#1e1e1e" stroke-width="4"/>
<line x1="582.2" y1="1059" x2="582.2" y2="1077.5" stroke="#1e1e1e" stroke-width="4"/>
<line x1="606.8" y1="1059" x2="606.8" y2="1077.5" stroke="#1e1e1e" stroke-width="4"/>
<line x1="629.6" y1="1059" x2="629.6" y2="1077.5" stroke="#1e1e1e" stroke-width="4"/>
<line x1="716.3" y1="1059" x2="716.3" y2="1077.5" stroke="#1e1e1e" stroke-width="4"/>
<line x1="777.5" y1="1059" x2="777.5" y2="1077.5" stroke="#1e1e1e" stroke-width="4"/>
<line x1="864.2" y1="1059" x2="864.2" y2="1077.5" stroke="#1e1e1e" stroke-width="4"/>
<line x1="925.3" y1="1059" x2="925.3" y2="1077.5" stroke="#1e1e1e" stroke-width="4"/>
<line x1="972.6" y1="1059" x2="972.6" y2="1077.5" stroke="#1e1e1e" stroke-width="4"/>
<rect x="150.3" y="66.5" width="15.3" height="17.5" fill="#1e1e1e"/>
<circle cx="151.3" cy="80.3" r="11.3" fill="#fff" stroke="#1e1e1e" stroke-width="1.8"/>
<text x="152.1" y="87.9" font-family="Liberation Sans" font-weight="bold" font-style="italic" font-size="21" text-anchor="middle" fill="#1e1e1e">1</text>
<rect x="218.0" y="50.5" width="15.0" height="16.0" fill="#1e1e1e"/>
<circle cx="232.5" cy="52.5" r="11.3" fill="#fff" stroke="#1e1e1e" stroke-width="1.8"/>
<text x="233.3" y="60.1" font-family="Liberation Sans" font-weight="bold" font-style="italic" font-size="21" text-anchor="middle" fill="#1e1e1e">2</text>
<rect x="338.0" y="307.0" width="16.7" height="16.5" fill="#1e1e1e"/>
<circle cx="354.0" cy="309.0" r="11.3" fill="#fff" stroke="#1e1e1e" stroke-width="1.8"/>
<text x="354.8" y="316.6" font-family="Liberation Sans" font-weight="bold" font-style="italic" font-size="21" text-anchor="middle" fill="#1e1e1e">3</text>
<rect x="322.6" y="581.8" width="15.9" height="17.2" fill="#1e1e1e"/>
<circle cx="323.6" cy="595.4" r="11.3" fill="#fff" stroke="#1e1e1e" stroke-width="1.8"/>
<text x="324.4" y="603.0" font-family="Liberation Sans" font-weight="bold" font-style="italic" font-size="21" text-anchor="middle" fill="#1e1e1e">3</text>
<rect x="357.0" y="726.4" width="16.2" height="17.4" fill="#1e1e1e"/>
<circle cx="357.2" cy="741.9" r="11.3" fill="#fff" stroke="#1e1e1e" stroke-width="1.8"/>
<text x="358.0" y="749.5" font-family="Liberation Sans" font-weight="bold" font-style="italic" font-size="21" text-anchor="middle" fill="#1e1e1e">4</text>
<rect x="482.0" y="711.5" width="15.5" height="14.9" fill="#1e1e1e"/>
<circle cx="497.3" cy="711.1" r="11.3" fill="#fff" stroke="#1e1e1e" stroke-width="1.8"/>
<text x="498.1" y="718.7" font-family="Liberation Sans" font-weight="bold" font-style="italic" font-size="21" text-anchor="middle" fill="#1e1e1e">5</text>
<rect x="468.8" y="726.4" width="13.2" height="10.6" fill="#1e1e1e"/>
<circle cx="469.8" cy="740.4" r="11.3" fill="#fff" stroke="#1e1e1e" stroke-width="1.8"/>
<text x="470.6" y="748.0" font-family="Liberation Sans" font-weight="bold" font-style="italic" font-size="21" text-anchor="middle" fill="#1e1e1e">6</text>
<rect x="630.2" y="711.0" width="14.8" height="15.4" fill="#1e1e1e"/>
<circle cx="644.3" cy="711.7" r="11.3" fill="#fff" stroke="#1e1e1e" stroke-width="1.8"/>
<text x="645.1" y="719.3" font-family="Liberation Sans" font-weight="bold" font-style="italic" font-size="21" text-anchor="middle" fill="#1e1e1e">7</text>
<rect x="619.1" y="726.4" width="10.5" height="12.6" fill="#1e1e1e"/>
<circle cx="617.3" cy="740.4" r="11.3" fill="#fff" stroke="#1e1e1e" stroke-width="1.8"/>
<text x="618.1" y="748.0" font-family="Liberation Sans" font-weight="bold" font-style="italic" font-size="21" text-anchor="middle" fill="#1e1e1e">8</text>
<rect x="777.5" y="710.6" width="22.5" height="15.8" fill="#1e1e1e"/>
<circle cx="796.8" cy="709.2" r="11.3" fill="#fff" stroke="#1e1e1e" stroke-width="1.8"/>
<text x="797.6" y="716.8" font-family="Liberation Sans" font-weight="bold" font-style="italic" font-size="21" text-anchor="middle" fill="#1e1e1e">9</text>
<text x="440" y="760" font-family="Liberation Sans" font-weight="bold" font-style="italic" font-size="39" text-anchor="middle" fill="#1e1e1e">B</text>
<text x="566" y="764" font-family="Liberation Sans" font-style="italic" font-size="39" text-anchor="middle" fill="#1e1e1e" stroke="#1e1e1e" stroke-width="1.1">C</text>
<text x="710" y="762" font-family="Liberation Sans" font-weight="bold" font-style="italic" font-size="37" text-anchor="middle" fill="#1e1e1e" stroke="#1e1e1e" stroke-width="0.4">D</text>
<text transform="translate(110.5,23.7) scale(0.93,1)" x="0" y="0" font-family="Liberation Sans" fill="#1e1e1e" font-size="24" stroke="#1e1e1e" stroke-width="0.2" text-anchor="end">7200</text>
<text transform="translate(110.5,67.0) scale(0.93,1)" x="0" y="0" font-family="Liberation Sans" fill="#1e1e1e" font-size="24" stroke="#1e1e1e" stroke-width="0.2" text-anchor="end">3600</text>
<text transform="translate(110.5,135.9) scale(0.93,1)" x="0" y="0" font-family="Liberation Sans" fill="#1e1e1e" font-size="24" stroke="#1e1e1e" stroke-width="0.2" text-anchor="end">1200</text>
<text transform="translate(110.5,179.8) scale(0.93,1)" x="0" y="0" font-family="Liberation Sans" fill="#1e1e1e" font-size="24" stroke="#1e1e1e" stroke-width="0.2" text-anchor="end">600</text>
<text transform="translate(110.5,223.3) scale(0.93,1)" x="0" y="0" font-family="Liberation Sans" fill="#1e1e1e" font-size="24" stroke="#1e1e1e" stroke-width="0.2" text-anchor="end">300</text>
<text transform="translate(110.5,280.4) scale(0.93,1)" x="0" y="0" font-family="Liberation Sans" fill="#1e1e1e" font-size="24" stroke="#1e1e1e" stroke-width="0.2" text-anchor="end">120</text>
<text transform="translate(110.5,324.0) scale(0.93,1)" x="0" y="0" font-family="Liberation Sans" fill="#1e1e1e" font-size="24" stroke="#1e1e1e" stroke-width="0.2" text-anchor="end">60</text>
<text transform="translate(110.5,367.9) scale(0.93,1)" x="0" y="0" font-family="Liberation Sans" fill="#1e1e1e" font-size="24" stroke="#1e1e1e" stroke-width="0.2" text-anchor="end">30</text>
<text transform="translate(110.5,437.0) scale(0.93,1)" x="0" y="0" font-family="Liberation Sans" fill="#1e1e1e" font-size="24" stroke="#1e1e1e" stroke-width="0.2" text-anchor="end">10</text>
<text transform="translate(110.5,480.4) scale(0.93,1)" x="0" y="0" font-family="Liberation Sans" fill="#1e1e1e" font-size="24" stroke="#1e1e1e" stroke-width="0.2" text-anchor="end">5</text>
<text transform="translate(110.5,539.0) scale(0.93,1)" x="0" y="0" font-family="Liberation Sans" fill="#1e1e1e" font-size="24" stroke="#1e1e1e" stroke-width="0.2" text-anchor="end">2</text>
<text transform="translate(110.5,582.3) scale(0.93,1)" x="0" y="0" font-family="Liberation Sans" fill="#1e1e1e" font-size="24" stroke="#1e1e1e" stroke-width="0.2" text-anchor="end">1</text>
<text transform="translate(110.5,625.8) scale(0.93,1)" x="0" y="0" font-family="Liberation Sans" fill="#1e1e1e" font-size="24" stroke="#1e1e1e" stroke-width="0.2" text-anchor="end">0.5</text>
<text transform="translate(110.5,683.8) scale(0.93,1)" x="0" y="0" font-family="Liberation Sans" fill="#1e1e1e" font-size="24" stroke="#1e1e1e" stroke-width="0.2" text-anchor="end">0.2</text>
<text transform="translate(110.5,726.9) scale(0.93,1)" x="0" y="0" font-family="Liberation Sans" fill="#1e1e1e" font-size="24" stroke="#1e1e1e" stroke-width="0.2" text-anchor="end">0.1</text>
<text transform="translate(110.5,770.7) scale(0.93,1)" x="0" y="0" font-family="Liberation Sans" fill="#1e1e1e" font-size="24" stroke="#1e1e1e" stroke-width="0.2" text-anchor="end">0.05</text>
<text transform="translate(110.5,828.8) scale(0.93,1)" x="0" y="0" font-family="Liberation Sans" fill="#1e1e1e" font-size="24" stroke="#1e1e1e" stroke-width="0.2" text-anchor="end">0.02</text>
<text transform="translate(110.5,871.6) scale(0.93,1)" x="0" y="0" font-family="Liberation Sans" fill="#1e1e1e" font-size="24" stroke="#1e1e1e" stroke-width="0.2" text-anchor="end">0.01</text>
<text transform="translate(110.5,915.6) scale(0.93,1)" x="0" y="0" font-family="Liberation Sans" fill="#1e1e1e" font-size="24" stroke="#1e1e1e" stroke-width="0.2" text-anchor="end">0.005</text>
<text transform="translate(110.5,973.3) scale(0.93,1)" x="0" y="0" font-family="Liberation Sans" fill="#1e1e1e" font-size="24" stroke="#1e1e1e" stroke-width="0.2" text-anchor="end">0.002</text>
<text transform="translate(110.5,1016.9) scale(0.93,1)" x="0" y="0" font-family="Liberation Sans" fill="#1e1e1e" font-size="24" stroke="#1e1e1e" stroke-width="0.2" text-anchor="end">0.001</text>
<text transform="translate(110.5,1059.3) scale(0.93,1)" x="0" y="0" font-family="Liberation Sans" fill="#1e1e1e" font-size="24" stroke="#1e1e1e" stroke-width="0.2" text-anchor="end">0.0005</text>
<text transform="translate(135.4,1118.8) scale(0.93,1)" x="0" y="0" font-family="Liberation Sans" fill="#1e1e1e" font-size="24" stroke="#1e1e1e" stroke-width="0.2" text-anchor="middle">1</text>
<text transform="translate(286.9,1118.8) scale(0.93,1)" x="0" y="0" font-family="Liberation Sans" fill="#1e1e1e" font-size="24" stroke="#1e1e1e" stroke-width="0.2" text-anchor="middle">2</text>
<text transform="translate(373.4,1118.8) scale(0.93,1)" x="0" y="0" font-family="Liberation Sans" fill="#1e1e1e" font-size="24" stroke="#1e1e1e" stroke-width="0.2" text-anchor="middle">3</text>
<text transform="translate(434.7,1118.8) scale(0.93,1)" x="0" y="0" font-family="Liberation Sans" fill="#1e1e1e" font-size="24" stroke="#1e1e1e" stroke-width="0.2" text-anchor="middle">4</text>
<text transform="translate(482.0,1118.8) scale(0.93,1)" x="0" y="0" font-family="Liberation Sans" fill="#1e1e1e" font-size="24" stroke="#1e1e1e" stroke-width="0.2" text-anchor="middle">5</text>
<text transform="translate(520.5,1118.8) scale(0.93,1)" x="0" y="0" font-family="Liberation Sans" fill="#1e1e1e" font-size="24" stroke="#1e1e1e" stroke-width="0.2" text-anchor="middle">6</text>
<text transform="translate(553.4,1118.8) scale(0.93,1)" x="0" y="0" font-family="Liberation Sans" fill="#1e1e1e" font-size="24" stroke="#1e1e1e" stroke-width="0.2" text-anchor="middle">7</text>
<text transform="translate(581.2,1118.8) scale(0.93,1)" x="0" y="0" font-family="Liberation Sans" fill="#1e1e1e" font-size="24" stroke="#1e1e1e" stroke-width="0.2" text-anchor="middle">8</text>
<text transform="translate(605.3,1118.8) scale(0.93,1)" x="0" y="0" font-family="Liberation Sans" fill="#1e1e1e" font-size="24" stroke="#1e1e1e" stroke-width="0.2" text-anchor="middle">9</text>
<text transform="translate(629.6,1118.8) scale(0.93,1)" x="0" y="0" font-family="Liberation Sans" fill="#1e1e1e" font-size="24" stroke="#1e1e1e" stroke-width="0.2" text-anchor="middle">10</text>
<text transform="translate(716.3,1118.8) scale(0.93,1)" x="0" y="0" font-family="Liberation Sans" fill="#1e1e1e" font-size="24" stroke="#1e1e1e" stroke-width="0.2" text-anchor="middle">15</text>
<text transform="translate(777.5,1118.8) scale(0.93,1)" x="0" y="0" font-family="Liberation Sans" fill="#1e1e1e" font-size="24" stroke="#1e1e1e" stroke-width="0.2" text-anchor="middle">20</text>
<text transform="translate(859.7,1118.8) scale(0.93,1)" x="0" y="0" font-family="Liberation Sans" fill="#1e1e1e" font-size="24" stroke="#1e1e1e" stroke-width="0.2" text-anchor="middle">30</text>
<text transform="translate(922.8,1118.8) scale(0.93,1)" x="0" y="0" font-family="Liberation Sans" fill="#1e1e1e" font-size="24" stroke="#1e1e1e" stroke-width="0.2" text-anchor="middle">40</text>
<text transform="translate(972.6,1118.8) scale(0.93,1)" x="0" y="0" font-family="Liberation Sans" fill="#1e1e1e" font-size="24" stroke="#1e1e1e" stroke-width="0.2" text-anchor="middle">50</text>
<text transform="translate(23,551) rotate(-90)" x="0" y="0" font-family="Liberation Sans" fill="#1e1e1e" font-size="30" textLength="86" lengthAdjust="spacingAndGlyphs">t [sec]</text>
<text x="549.5" y="1167" font-family="Liberation Sans" fill="#1e1e1e" font-size="30">I</text>
<text x="572" y="1167" font-family="Liberation Sans" fill="#1e1e1e" font-size="30" text-anchor="middle">/</text>
<text x="586.5" y="1167" font-family="Liberation Sans" fill="#1e1e1e" font-size="30">I</text>
<text x="595" y="1181" font-family="Liberation Sans" fill="#1e1e1e" font-size="22">N</text>
<text transform="translate(1020.8,1061) rotate(-90)" x="0" y="0" font-family="Liberation Sans" fill="#1e1e1e" font-size="14.5" font-weight="bold" textLength="164" lengthAdjust="spacingAndGlyphs">DG000892 Ver. 2 - 06/07</text>
<text x="711.0" y="70.2" font-family="Liberation Sans" fill="#1e1e1e" stroke="#1e1e1e" stroke-width="0.3" font-size="19" textLength="188.0" lengthAdjust="spacingAndGlyphs">Tripping characteristic</text>
<text x="705.0" y="92.2" font-family="Liberation Sans" fill="#1e1e1e" stroke="#1e1e1e" stroke-width="0.3" font-size="19" textLength="203.0" lengthAdjust="spacingAndGlyphs">acc. to IEC/EN60898-1</text>
<circle cx="661.0" cy="128.6" r="10" fill="none" stroke="#1e1e1e" stroke-width="1.9"/>
<text x="661.0" y="134.2" font-family="Liberation Sans" fill="#1e1e1e" font-size="15.5" text-anchor="middle">1</text>
<text x="691.4" y="133.2" font-family="Liberation Sans" fill="#1e1e1e" stroke="#1e1e1e" stroke-width="0.3" font-size="19" textLength="282.0" lengthAdjust="spacingAndGlyphs">conventional non-tripping current</text>
<text x="691.4" y="153.5" font-family="Liberation Sans" fill="#1e1e1e" stroke="#1e1e1e" stroke-width="0.3" font-size="19" textLength="152.0" lengthAdjust="spacingAndGlyphs">I<tspan font-size="14" dy="3">nt</tspan><tspan dy="-3">= 1.13 I</tspan><tspan font-size="14" dy="4">N</tspan><tspan dy="-4"> : t &gt; 1 h</tspan></text>
<circle cx="661.0" cy="190.5" r="10" fill="none" stroke="#1e1e1e" stroke-width="1.9"/>
<text x="661.0" y="196.1" font-family="Liberation Sans" fill="#1e1e1e" font-size="15.5" text-anchor="middle">2</text>
<text x="691.4" y="192.5" font-family="Liberation Sans" fill="#1e1e1e" stroke="#1e1e1e" stroke-width="0.3" font-size="19" textLength="243.0" lengthAdjust="spacingAndGlyphs">conventional tripping current</text>
<text x="691.4" y="212.9" font-family="Liberation Sans" fill="#1e1e1e" stroke="#1e1e1e" stroke-width="0.3" font-size="19" textLength="152.0" lengthAdjust="spacingAndGlyphs">I<tspan font-size="14" dy="3">t</tspan><tspan dy="-3"> = 1.45 I</tspan><tspan font-size="14" dy="4">N</tspan><tspan dy="-4"> : t &lt; 1 h</tspan></text>
<circle cx="661.0" cy="254.5" r="10" fill="none" stroke="#1e1e1e" stroke-width="1.9"/>
<text x="661.0" y="260.1" font-family="Liberation Sans" fill="#1e1e1e" font-size="15.5" text-anchor="middle">3</text>
<text x="691.4" y="253.7" font-family="Liberation Sans" fill="#1e1e1e" stroke="#1e1e1e" stroke-width="0.3" font-size="19" textLength="224.5" lengthAdjust="spacingAndGlyphs">2.55 I<tspan font-size="14" dy="4">N</tspan><tspan dy="-4">: t = 1- 60 s (I</tspan><tspan font-size="14" dy="4">N</tspan><tspan dy="-4">&lt; 32A)</tspan></text>
<text x="752.4" y="275.9" font-family="Liberation Sans" fill="#1e1e1e" stroke="#1e1e1e" stroke-width="0.3" font-size="19" textLength="163.3" lengthAdjust="spacingAndGlyphs">t = 1-120 s (I<tspan font-size="14" dy="4">N</tspan><tspan dy="-4">&gt; 32A)</tspan></text>
<circle cx="661.0" cy="303.4" r="10" fill="none" stroke="#1e1e1e" stroke-width="1.9"/>
<text x="661.0" y="309.0" font-family="Liberation Sans" fill="#1e1e1e" font-size="15.5" text-anchor="middle">4</text>
<text x="691.2" y="306.3" font-family="Liberation Sans" fill="#1e1e1e" stroke="#1e1e1e" stroke-width="0.3" font-size="19" textLength="163.3" lengthAdjust="spacingAndGlyphs">Type B: 3 I<tspan font-size="11" dy="4">N</tspan><tspan dy="-4">: t &gt; 0.1 s</tspan></text>
<circle cx="661.0" cy="327.5" r="10" fill="none" stroke="#1e1e1e" stroke-width="1.9"/>
<text x="661.0" y="333.1" font-family="Liberation Sans" fill="#1e1e1e" font-size="15.5" text-anchor="middle">5</text>
<text x="756.2" y="332.3" font-family="Liberation Sans" fill="#1e1e1e" stroke="#1e1e1e" stroke-width="0.3" font-size="19" textLength="99.4" lengthAdjust="spacingAndGlyphs">5 I<tspan font-size="11" dy="4">N</tspan><tspan dy="-4">: t &lt; 0.1 s</tspan></text>
<circle cx="661.0" cy="364.6" r="10" fill="none" stroke="#1e1e1e" stroke-width="1.9"/>
<text x="661.0" y="370.2" font-family="Liberation Sans" fill="#1e1e1e" font-size="15.5" text-anchor="middle">6</text>
<text x="691.2" y="369.4" font-family="Liberation Sans" fill="#1e1e1e" stroke="#1e1e1e" stroke-width="0.3" font-size="19" textLength="165.9" lengthAdjust="spacingAndGlyphs">Type C: 5 I<tspan font-size="11" dy="4">N</tspan><tspan dy="-4">: t &gt; 0.1 s</tspan></text>
<circle cx="661.0" cy="388.0" r="10" fill="none" stroke="#1e1e1e" stroke-width="1.9"/>
<text x="661.0" y="393.6" font-family="Liberation Sans" fill="#1e1e1e" font-size="15.5" text-anchor="middle">7</text>
<text x="748.0" y="393.5" font-family="Liberation Sans" fill="#1e1e1e" stroke="#1e1e1e" stroke-width="0.3" font-size="19" textLength="108.3" lengthAdjust="spacingAndGlyphs">10 I<tspan font-size="11" dy="4">N</tspan><tspan dy="-4">: t &lt; 0.1 s</tspan></text>
<circle cx="661.0" cy="422.0" r="10" fill="none" stroke="#1e1e1e" stroke-width="1.9"/>
<text x="661.0" y="427.6" font-family="Liberation Sans" fill="#1e1e1e" font-size="15.5" text-anchor="middle">8</text>
<text x="691.2" y="425.0" font-family="Liberation Sans" fill="#1e1e1e" stroke="#1e1e1e" stroke-width="0.3" font-size="19" textLength="171.8" lengthAdjust="spacingAndGlyphs">Type D:10 I<tspan font-size="11" dy="4">N</tspan><tspan dy="-4">: t &gt; 0.1 s</tspan></text>
<circle cx="661.0" cy="444.4" r="10" fill="none" stroke="#1e1e1e" stroke-width="1.9"/>
<text x="661.0" y="450.0" font-family="Liberation Sans" fill="#1e1e1e" font-size="15.5" text-anchor="middle">9</text>
<text x="752.4" y="454.7" font-family="Liberation Sans" fill="#1e1e1e" stroke="#1e1e1e" stroke-width="0.3" font-size="19" textLength="108.4" lengthAdjust="spacingAndGlyphs">20 I<tspan font-size="11" dy="4">N</tspan><tspan dy="-4">: t &lt; 0.1 s</tspan></text>
</svg>
</body></html>
